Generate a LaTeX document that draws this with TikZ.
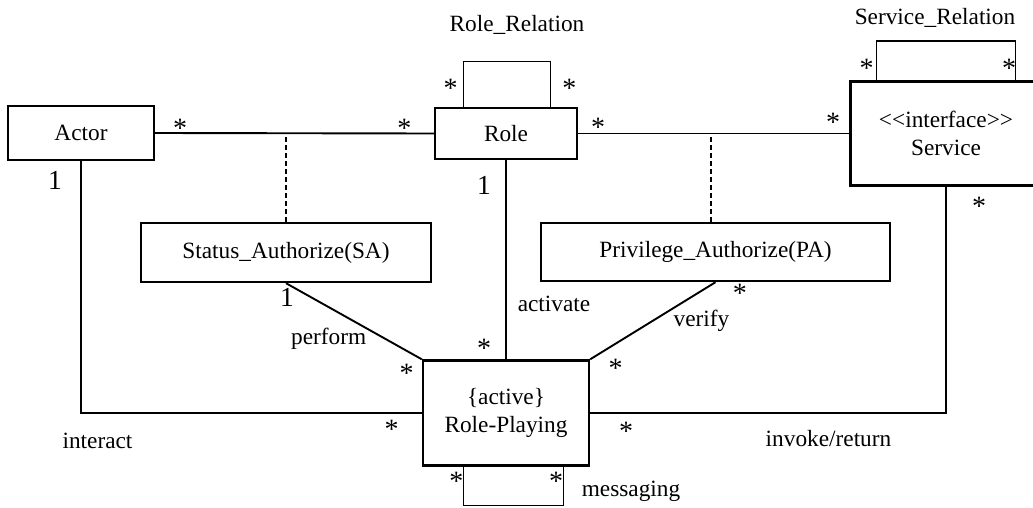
\documentclass[tikz,border=0pt]{standalone}
\usepackage{fontspec}
\setmainfont{Liberation Serif}
\begin{document}
\begin{tikzpicture}[x=0.5pt,y=-0.5pt,
  box/.style={draw, line width=1.2pt, rectangle, inner sep=0, align=center, font=\fontsize{11.65}{13.6}\selectfont},
  conn/.style={line width=0.95pt},
  thinline/.style={line width=0.6pt},
  dashline/.style={line width=0.95pt, dash pattern=on 2.5pt off 1.5pt},
  mult/.style={anchor=base, inner sep=0, yshift=-6.9pt, font=\fontsize{14}{16}\selectfont},
  one/.style={anchor=base, inner sep=0, font=\fontsize{13.75}{16}\selectfont},
  lbl/.style={anchor=base, inner sep=0, font=\fontsize{11.65}{13.6}\selectfont}]
\useasboundingbox (0,0) rectangle (1033,508);

% boxes
\node[box, minimum width=73pt, minimum height=27pt] (actor) at (81,133) {Actor};
\node[box, minimum width=71pt, minimum height=25.5pt] (role) at (506,133.5) {Role};
\node[box, minimum width=95.5pt, minimum height=52pt] (service) at (946,133.5) {<{}<interface>{}>\\Service};
\node[box, minimum width=145pt, minimum height=29.5pt] (sa) at (286,252.5) {Status\_Authorize(SA)};
\node[box, minimum width=174.5pt, minimum height=29pt] (pa) at (715.5,252) {Privilege\_Authorize(PA)};
\node[box, minimum width=83pt, minimum height=52.5pt] (rp) at (506,413) {\{active\}\\Role-Playing};

% connectors
\draw[conn] (actor.east) -- (role.west);
\draw[conn] (role.east) -- (service.west);
\draw[dashline] (sa.north) -- (sa.north |- actor.east);
\coordinate (padash) at ([xshift=-2.25pt]pa.north);
\draw[dashline] (padash) -- (padash |- role.east);
\draw[conn] (role.south) -- (rp.north);
\draw[conn] (sa.south) -- (rp.north west);
\draw[conn] (pa.south) -- (rp.north east);
\draw[thinline] (actor.south) |- (rp.west);
\draw[thinline] (service.south) |- (rp.east);

% self loops
\draw[thinline] ([xshift=-21.15pt]role.north) -- ++(0,-45.5) -- ++(87,0) -- ++(0,45.5);
\draw[thinline] ([xshift=-34.65pt]service.north) -- ++(0,-39.2) -- ++(138.6,0) -- ++(0,39.2);
\draw[thinline] ([xshift=-21.1pt]rp.south) -- ++(0,38.75) -- ++(99.7,0) -- ++(0,-38.75);

% labels
\node[lbl] (rrl) at (517,31.7) {Role\_Relation};
\node[lbl] (srl) at (935,25) {Service\_Relation};
\node[lbl] (perf) at (328.7,344) {perform};
\node[lbl] (act) at (554,311.7) {activate};
\node[lbl] (ver) at (701.5,326) {verify};
\node[lbl] (inter) at (97.5,448) {interact};
\node[lbl] (inv) at (828.5,446.7) {invoke/return};
\node[lbl] (msg) at (631,496.7) {messaging};

% multiplicities
\node[one] (o1) at (55,190) {1};
\node[one] (o2) at (484,194) {1};
\node[one] (o3) at (287,306.7) {1};

\node[mult] (s1) at (180,123.3) {*};
\node[mult] (s2) at (404.3,123.3) {*};
\node[mult] (s3) at (598,123) {*};
\node[mult] (s4) at (833,118) {*};
\node[mult] (s5) at (450.7,83.3) {*};
\node[mult] (s6) at (569.3,83.3) {*};
\node[mult] (s7) at (866.7,63.3) {*};
\node[mult] (s8) at (1009,63.3) {*};
\node[mult] (s9) at (979,202) {*};
\node[mult] (s10) at (484,344) {*};
\node[mult] (s11) at (406.7,368.3) {*};
\node[mult] (s12) at (391.7,425) {*};
\node[mult] (s13) at (739.8,288.3) {*};
\node[mult] (s14) at (615.5,364) {*};
\node[mult] (s15) at (626,426.7) {*};
\node[mult] (s16) at (456.4,476.7) {*};
\node[mult] (s17) at (556,476.7) {*};
\end{tikzpicture}
\end{document}
